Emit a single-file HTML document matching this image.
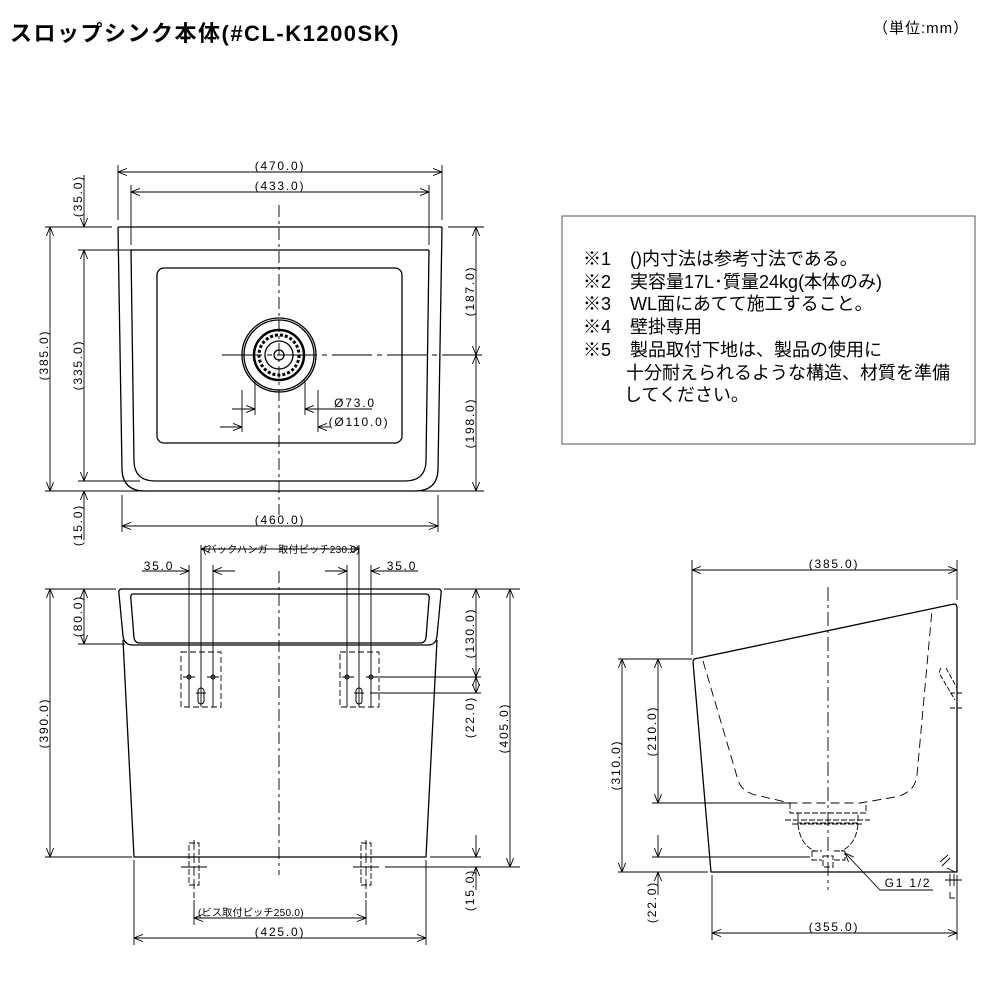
<!DOCTYPE html>
<html><head><meta charset="utf-8"><style>
html,body{margin:0;padding:0;background:#fff;}
svg{display:block}
text{font-family:"Liberation Sans","Noto Sans CJK JP",sans-serif;fill:#000}
.d{font-size:12px;letter-spacing:1.8px;text-anchor:middle}
.n{font-size:18px}
</style></head><body>
<svg width="1000" height="1000" viewBox="0 0 1000 1000" xmlns="http://www.w3.org/2000/svg">
<defs>
<marker id="a" viewBox="0 0 10 10" refX="10" refY="5" markerWidth="9" markerHeight="9" orient="auto-start-reverse" markerUnits="userSpaceOnUse">
<path d="M0,1 L10,5 L0,9" fill="none" stroke="#000" stroke-width="1"/></marker>
</defs>
<text x="10" y="41" style="font-size:22px;font-weight:bold;letter-spacing:1.5px">スロップシンク本体(#CL-K1200SK)</text>
<text x="873" y="33" style="font-size:15px;letter-spacing:1px">（単位:mm）</text>

<g fill="none" stroke="#000" stroke-width="1.3">
<path d="M118,227 H442"/>
<path d="M118,227 L122,470 Q123,491 145,491 H415 Q437,491 438,470 L442,227"/>
<path d="M131,250 H429"/>
<path d="M131,250 L134,462 Q135,481 155,481 H405 Q425,481 426,462 L429,250"/>
<rect x="157" y="268" width="245" height="175" rx="7"/>
<circle cx="279" cy="355" r="37"/>
<circle cx="279" cy="355" r="35"/>
<circle cx="279" cy="355" r="25" stroke-width="2.5"/>
<circle cx="279" cy="355" r="20" stroke-dasharray="3 2" stroke-width="3"/>
<circle cx="279" cy="355" r="14"/>
<circle cx="279" cy="355" r="5"/>
</g>
<g fill="none" stroke="#000" stroke-width="0.9">
<path d="M279,205 V515" stroke-dasharray="12 4 3 4"/>
<path d="M222,355 H484" stroke-dasharray="40 5 5 5"/>
<path d="M118,165 V220 M442,165 V220 M131,185 V245 M429,185 V245"/>
<path d="M118,172 H442" marker-start="url(#a)" marker-end="url(#a)"/>
<path d="M131,192 H429" marker-start="url(#a)" marker-end="url(#a)"/>
<path d="M45,227 H112 M448,227 H484 M78,250 H131 M45,491 H140 M420,491 H484 M78,481 H140"/>
<path d="M50,227 V491" marker-start="url(#a)" marker-end="url(#a)"/>
<path d="M84,250 V481" marker-start="url(#a)" marker-end="url(#a)"/>
<path d="M84,175 V227" marker-end="url(#a)"/>
<path d="M84,540 V491" marker-end="url(#a)"/>
<path d="M476,227 V355" marker-start="url(#a)" marker-end="url(#a)"/>
<path d="M476,355 V491" marker-start="url(#a)" marker-end="url(#a)"/>
<path d="M122,495 V532 M438,495 V532"/>
<path d="M122,526 H438" marker-start="url(#a)" marker-end="url(#a)"/>
<path d="M255,380 V415 M305,380 V415 M242,390 V432 M318,390 V432"/>
<path d="M232,409 H255" marker-end="url(#a)"/><path d="M372,409 H305" marker-end="url(#a)"/>
<path d="M220,427 H242" marker-end="url(#a)"/><path d="M330,427 H318" marker-end="url(#a)"/>
</g>
<text class="d" x="280" y="170">(470.0)</text>
<text class="d" x="280" y="190">(433.0)</text>
<text class="d" x="280" y="524">(460.0)</text>
<text class="d" x="355" y="407">Ø73.0</text>
<text class="d" x="359" y="426">(Ø110.0)</text>
<text class="d" transform="translate(82,196) rotate(-90)">(35.0)</text>
<text class="d" transform="translate(48,355) rotate(-90)">(385.0)</text>
<text class="d" transform="translate(82,365) rotate(-90)">(335.0)</text>
<text class="d" transform="translate(82,525) rotate(-90)">(15.0)</text>
<text class="d" transform="translate(474,291) rotate(-90)">(187.0)</text>
<text class="d" transform="translate(474,423) rotate(-90)">(198.0)</text>

<g fill="none" stroke="#000" stroke-width="1.3">
<path d="M122,589 H438 Q442,589 441,594 L437,636 Q436,645 428,645 H133 Q124,645 123,636 L119,594 Q118,589 122,589 Z"/>
<path d="M133,594 H426 Q430,594 429,600 L426,638 Q425,643 420,643 H140 Q135,643 134,638 L131,600 Q130,594 133,594 Z"/>
<path d="M123,640 L134,857 H426 L437,640"/>
</g>
<g fill="none" stroke="#000" stroke-width="0.9">
<path d="M279,571 V875" stroke-dasharray="12 4 3 4"/>
<rect x="181" y="652" width="40" height="55" stroke-dasharray="6 3"/>
<rect x="340" y="652" width="39" height="55" stroke-dasharray="6 3"/>
<path d="M189,565 V707 M201,545 V707 M213,565 V707 M347,565 V707 M359,545 V707 M371,565 V707"/>
<path d="M201,549 H359" marker-start="url(#a)" marker-end="url(#a)"/>
<path d="M142,571 H189" marker-end="url(#a)"/><path d="M235,571 H213" marker-end="url(#a)"/>
<path d="M325,571 H347" marker-end="url(#a)"/><path d="M418,571 H371" marker-end="url(#a)"/>
<path d="M183,677 H195 M207,677 H219 M342,677 H354 M366,677 H378 M196,693 H206 M354,693 H364"/>
<path d="M194,840 V898 M366,840 V898" stroke-dasharray="10 3"/>
<rect x="189" y="843" width="10" height="42" stroke-dasharray="6 2"/>
<rect x="361" y="843" width="10" height="42" stroke-dasharray="6 2"/>
<path d="M181,867 H207 M353,867 H379"/>
<path d="M194,900 V925 M366,900 V925"/>
<path d="M194,918 H366" marker-start="url(#a)" marker-end="url(#a)"/>
<path d="M134,860 V945 M426,860 V945"/>
<path d="M134,938 H426" marker-start="url(#a)" marker-end="url(#a)"/>
<path d="M45,589 H116 M444,589 H520 M78,644 H125 M45,857 H132 M430,857 H481 M380,677 H481 M370,693 H481 M385,867 H520"/>
<path d="M50,589 V857" marker-start="url(#a)" marker-end="url(#a)"/>
<path d="M84,589 V644" marker-start="url(#a)" marker-end="url(#a)"/>
<path d="M476,589 V677" marker-start="url(#a)" marker-end="url(#a)"/>
<path d="M476,677 V693" marker-start="url(#a)" marker-end="url(#a)"/>
<path d="M510,589 V867" marker-start="url(#a)" marker-end="url(#a)"/>
<path d="M476,835 V857" marker-end="url(#a)"/><path d="M476,890 V867" marker-end="url(#a)"/>
</g>
<circle cx="189" cy="677" r="2" fill="none" stroke="#000"/><circle cx="213" cy="677" r="2" fill="none" stroke="#000"/>
<circle cx="347" cy="677" r="2" fill="none" stroke="#000"/><circle cx="371" cy="677" r="2" fill="none" stroke="#000"/>
<rect x="198" y="688" width="6" height="16" rx="3" fill="none" stroke="#000"/>
<rect x="356" y="688" width="6" height="16" rx="3" fill="none" stroke="#000"/>
<text x="203" y="553" style="font-size:10px;letter-spacing:0.3px">(バックハンガー取付ピッチ230.0)</text>
<text class="d" x="159" y="570">35.0</text>
<text class="d" x="402" y="570">35.0</text>
<text x="198" y="916" style="font-size:10px;letter-spacing:0.3px">(ビス取付ピッチ250.0)</text>
<text class="d" x="280" y="936">(425.0)</text>
<text class="d" transform="translate(48,723) rotate(-90)">(390.0)</text>
<text class="d" transform="translate(82,616) rotate(-90)">(80.0)</text>
<text class="d" transform="translate(474,633) rotate(-90)">(130.0)</text>
<text class="d" transform="translate(474,717) rotate(-90)">(22.0)</text>
<text class="d" transform="translate(508,728) rotate(-90)">(405.0)</text>
<text class="d" transform="translate(474,890) rotate(-90)">(15.0)</text>

<g fill="none" stroke="#000" stroke-width="1.3">
<path d="M694,659 L954,604 Q957,604 957,608 V872 H711 L693,662 Z"/>
</g>
<g fill="none" stroke="#000" stroke-width="0.9">
<path d="M703,661 L738,780 Q742,793 760,796 L790,803 H860 L895,797 Q915,793 917,775 L932,610" stroke-dasharray="9 5"/>
<path d="M790,803 V813 H866 V803 M798,813 V823 H858 V813 M785,820 H870 M792,824 H864 M798,824 Q800,845 815,851 M858,824 Q856,845 841,851 M812,851 H822 M834,851 H845 M812,851 V860 H822 M834,860 H845 V851 M823,856 H833 V867 H823 Z" stroke-dasharray="6 2"/>
<path d="M828,587 V890" stroke-dasharray="14 4 3 4"/>
<path d="M692,560 V655 M957,560 V600 M712,875 V940 M957,875 V940"/>
<path d="M692,570 H957" marker-start="url(#a)" marker-end="url(#a)"/>
<path d="M712,933 H957" marker-start="url(#a)" marker-end="url(#a)"/>
<path d="M618,659 H692 M652,803 H790 M652,857 H810 M618,872 H708"/>
<path d="M622,659 V872" marker-start="url(#a)" marker-end="url(#a)"/>
<path d="M658,659 V803" marker-start="url(#a)" marker-end="url(#a)"/>
<path d="M658,835 V857" marker-end="url(#a)"/><path d="M658,895 V872" marker-end="url(#a)"/>
<path d="M880,890 L845,853" marker-end="url(#a)"/><path d="M880,890 H933"/>
<path d="M941,668 Q938,672 942,678 L955,700 M946,668 L957,688 M950,693 H962 M950,708 H962" stroke-dasharray="5 2"/>
<path d="M940,862 L948,855 M942,866 L950,858 M947,868 L955,872 M945,880 H962 M950,874 V886 M954,874 V886 M950,892 V898 H955"/>
</g>
<text class="d" x="834" y="568">(385.0)</text>
<text class="d" x="834" y="931">(355.0)</text>
<text class="d" x="908" y="887">G1 1/2</text>
<text class="d" transform="translate(620,765) rotate(-90)">(310.0)</text>
<text class="d" transform="translate(656,731) rotate(-90)">(210.0)</text>
<text class="d" transform="translate(656,902) rotate(-90)">(22.0)</text>

<rect x="562" y="216" width="413" height="228" fill="none" stroke="#555" stroke-width="1"/>
<g class="n">
<text x="583" y="265">※1</text><text x="630" y="265">()内寸法は参考寸法である。</text>
<text x="583" y="288">※2</text><text x="630" y="288">実容量17L･質量24kg(本体のみ)</text>
<text x="583" y="310">※3</text><text x="630" y="310">WL面にあてて施工すること。</text>
<text x="583" y="333">※4</text><text x="630" y="333">壁掛専用</text>
<text x="583" y="356">※5</text><text x="630" y="356">製品取付下地は、製品の使用に</text>
<text x="626" y="379">十分耐えられるような構造、材質を準備</text>
<text x="624" y="401">してください。</text>
</g>
</svg>
</body></html>
